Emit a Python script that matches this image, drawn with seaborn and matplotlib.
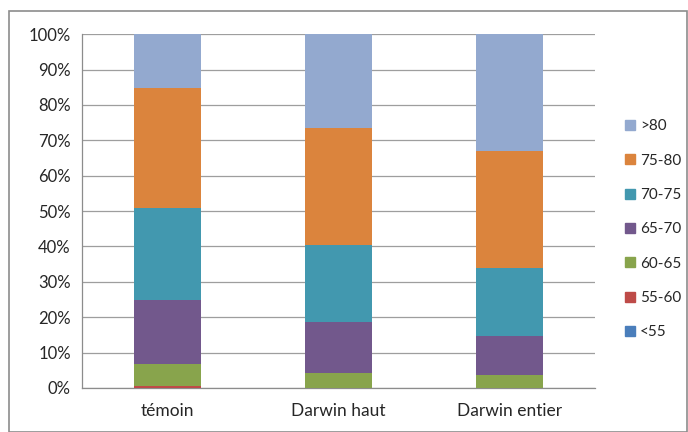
import numpy as np
import pandas as pd
import matplotlib
matplotlib.use("Agg")
import matplotlib.pyplot as plt
import seaborn as sns
from matplotlib.patches import Rectangle
from matplotlib.lines import Line2D

categories = ["témoin", "Darwin haut", "Darwin entier"]
classes = ["<55", "55-60", "60-65", "65-70", "70-75", "75-80", ">80"]

# parts en % de chaque classe, par catégorie
lt55 = [0.0, 0.0, 0.0]
c55_60 = [0.6, 0.0, 0.0]
c60_65 = [6.1, 4.3, 3.6]
c65_70 = [18.2, 14.2, 11.2]
c70_75 = [26.0, 21.8, 19.0]
c75_80 = [33.9, 33.3, 33.1]
gt80 = [15.2, 26.4, 33.1]

colors = ["#4A7EBB", "#BE4B48", "#88A44C", "#72588C", "#4298AF", "#DB843D", "#93A9CF"]

sns.set_style("white")
plt.rcParams["font.family"] = ["Lato", "DejaVu Sans"]

df = pd.DataFrame({"cat": categories, "<55": lt55, "55-60": c55_60, "60-65": c60_65,
                   "65-70": c65_70, "70-75": c70_75, "75-80": c75_80, ">80": gt80})
cum = df[classes].cumsum(axis=1)

fig = plt.figure(figsize=(6.88, 4.32), dpi=100)
ax = fig.add_axes([0.119, 0.102, 0.746, 0.819])

# barres empilées: on trace les cumuls du plus haut au plus bas
for cls, col in reversed(list(zip(classes, colors))):
    sns.barplot(x=df["cat"], y=cum[cls], color=col, width=0.39, ax=ax,
                saturation=1, edgecolor="none", linewidth=0, zorder=3)

ax.set_ylim(0, 100)
ax.set_xlim(-0.5, 2.5)
ax.set_yticks(np.arange(0, 101, 10))
ax.set_yticklabels([f"{v}%" for v in range(0, 101, 10)], fontsize=12, color="#262626")
ax.set_xlabel("")
ax.set_ylabel("")
ax.tick_params(axis="x", labelsize=12.5, colors="#262626", length=0, pad=11)
ax.set_xticks([-0.5, 0.5, 1.5, 2.5], minor=True)
ax.tick_params(axis="x", which="minor", length=5, color="#8C8C8C", width=0.9)
ax.tick_params(axis="y", length=5, color="#8C8C8C", width=0.9, pad=3)
ax.grid(axis="y", color="#9E9E9E", linewidth=0.9, zorder=0)
ax.set_axisbelow(True)
for s in ["top", "right"]:
    ax.spines[s].set_visible(False)
for s in ["left", "bottom"]:
    ax.spines[s].set_color("#8C8C8C")
    ax.spines[s].set_linewidth(0.9)

handles = [Line2D([0], [0], marker="s", linestyle="none", markersize=7,
                  markerfacecolor=c, markeredgecolor=c) for c in colors]
leg = fig.legend(handles[::-1], classes[::-1], loc="upper left",
                 bbox_to_anchor=(0.895, 0.738), frameon=False, fontsize=11,
                 handletextpad=0.2, labelspacing=1.33, handlelength=1.0,
                 borderaxespad=0)

fig.patches.append(Rectangle((0.013, 0.0), 0.985, 0.975, transform=fig.transFigure,
                             fill=False, edgecolor="#8C8C8C", linewidth=1.2))

fig.savefig("out.png", dpi=100)
